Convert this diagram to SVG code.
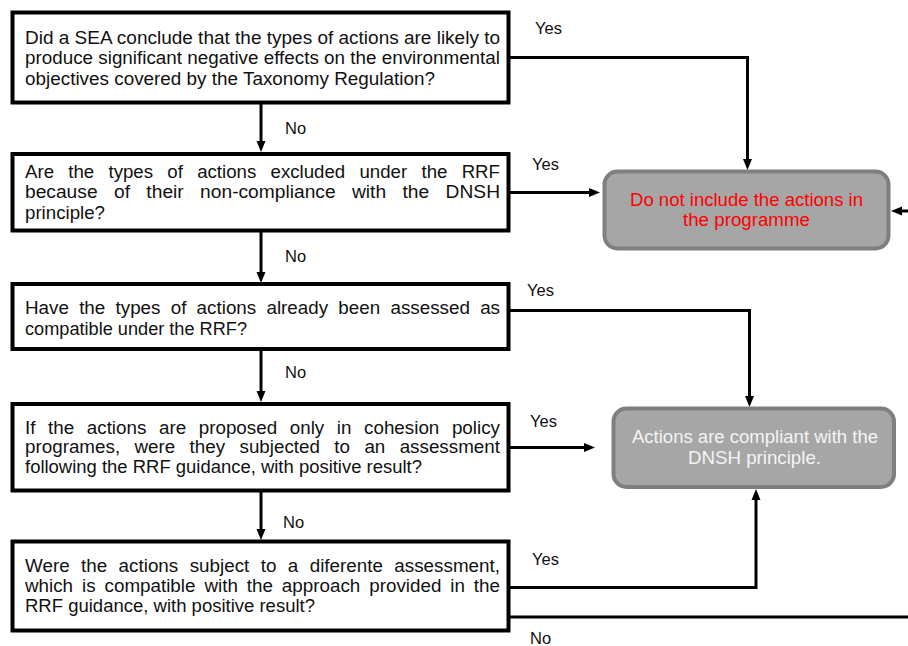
<svg xmlns="http://www.w3.org/2000/svg" width="908" height="646" viewBox="0 0 908 646">
  <style>
    .q { fill: #ffffff; stroke: #000000; stroke-width: 4; }
    .r { fill: #a6a6a6; stroke: #7f7f7f; stroke-width: 4; }
    .t { font-family: "Liberation Sans", Arial, sans-serif; font-size: 17.5px; fill: #111111; }
    .lbl { font-family: "Liberation Sans", Arial, sans-serif; font-size: 16.5px; fill: #111111; }
    .red { font-family: "Liberation Sans", Arial, sans-serif; font-size: 17.5px; fill: #ff0000; }
    .wht { font-family: "Liberation Sans", Arial, sans-serif; font-size: 17.5px; fill: #f4f4f4; }
    .c { fill: none; stroke: #000000; stroke-width: 3; }
  </style>
  <defs>
    <marker id="ah" markerUnits="userSpaceOnUse" markerWidth="12" markerHeight="10" refX="6" refY="5" orient="auto">
      <path d="M0,0.5 L11,5 L0,9.5 z" fill="#000000"/>
    </marker>
  </defs>
  <rect width="908" height="646" fill="#ffffff"/>

  <!-- connectors -->
  <g id="connectors">
    <path class="c" d="M261,104 V147" marker-end="url(#ah)"/>
    <path class="c" d="M261,232 V278" marker-end="url(#ah)"/>
    <path class="c" d="M261,351 V397" marker-end="url(#ah)"/>
    <path class="c" d="M261,492 V535" marker-end="url(#ah)"/>
    <path class="c" d="M510,57.5 H747.5 V165" marker-end="url(#ah)"/>
    <path class="c" d="M510,192.5 H595" marker-end="url(#ah)"/>
    <path class="c" d="M908,211 H896" marker-end="url(#ah)"/>
    <path class="c" d="M510,310.5 H749.5 V402" marker-end="url(#ah)"/>
    <path class="c" d="M510,447.5 H590" marker-end="url(#ah)"/>
    <path class="c" d="M510,587.5 H756 V494" marker-end="url(#ah)"/>
    <path class="c" d="M510,617 H908"/>
    <text class="lbl" x="535" y="33.5">Yes</text>
    <text class="lbl" x="285" y="133.5">No</text>
    <text class="lbl" x="532" y="170">Yes</text>
    <text class="lbl" x="285" y="262">No</text>
    <text class="lbl" x="527" y="296">Yes</text>
    <text class="lbl" x="285" y="378">No</text>
    <text class="lbl" x="530" y="427">Yes</text>
    <text class="lbl" x="283" y="528">No</text>
    <text class="lbl" x="532" y="565">Yes</text>
    <text class="lbl" x="530" y="643.5">No</text>
  </g>

  <!-- question 1 -->
  <g id="q1">
    <rect class="q" x="12.5" y="12.5" width="496" height="90"/>
    <text class="t" x="25" y="43.5" textLength="475" lengthAdjust="spacingAndGlyphs">Did a SEA conclude that the types of actions are likely to</text>
    <text class="t" x="25" y="64" textLength="475" lengthAdjust="spacingAndGlyphs">produce significant negative effects on the environmental</text>
    <text class="t" x="25" y="84.5" textLength="410" lengthAdjust="spacingAndGlyphs">objectives covered by the Taxonomy Regulation?</text>
  </g>

  <!-- question 2 (justified lines) -->
  <g id="q2">
    <rect class="q" x="12.5" y="154" width="496" height="76.5"/>
    <text class="t" x="25" y="177.5" word-spacing="8.5" textLength="475" lengthAdjust="spacingAndGlyphs">Are the types of actions excluded under the RRF</text>
    <text class="t" x="25" y="198" word-spacing="10.1" textLength="475" lengthAdjust="spacingAndGlyphs">because of their non-compliance with the DNSH</text>
    <text class="t" x="25" y="218.5" textLength="80" lengthAdjust="spacingAndGlyphs">principle?</text>
  </g>

  <!-- question 3 -->
  <g id="q3">
    <rect class="q" x="12.5" y="284" width="496" height="65"/>
    <text class="t" x="25" y="314" word-spacing="4.65" textLength="475" lengthAdjust="spacingAndGlyphs">Have the types of actions already been assessed as</text>
    <text class="t" x="25" y="334.5" textLength="222" lengthAdjust="spacingAndGlyphs">compatible under the RRF?</text>
  </g>

  <!-- question 4 -->
  <g id="q4">
    <rect class="q" x="12.5" y="404" width="496" height="86.5"/>
    <text class="t" x="25" y="433.5" word-spacing="6.85" textLength="475" lengthAdjust="spacingAndGlyphs">If the actions are proposed only in cohesion policy</text>
    <text class="t" x="25" y="453" word-spacing="8.5" textLength="475" lengthAdjust="spacingAndGlyphs">programes, were they subjected to an assessment</text>
    <text class="t" x="25" y="473" textLength="397" lengthAdjust="spacingAndGlyphs">following the RRF guidance, with positive result?</text>
  </g>

  <!-- question 5 -->
  <g id="q5">
    <rect class="q" x="12.5" y="541.5" width="496" height="89"/>
    <text class="t" x="25" y="572" word-spacing="5.74" textLength="475" lengthAdjust="spacingAndGlyphs">Were the actions subject to a diferente assessment,</text>
    <text class="t" x="25" y="592" word-spacing="3.45" textLength="475" lengthAdjust="spacingAndGlyphs">which is compatible with the approach provided in the</text>
    <text class="t" x="25" y="612" textLength="290" lengthAdjust="spacingAndGlyphs">RRF guidance, with positive result?</text>
  </g>

  <!-- outcome: exclude -->
  <g id="exclude">
    <rect class="r" x="604.5" y="171.5" width="284" height="77" rx="13"/>
    <text class="red" x="630" y="205.5" textLength="233" lengthAdjust="spacingAndGlyphs">Do not include the actions in</text>
    <text class="red" x="683" y="226" textLength="127" lengthAdjust="spacingAndGlyphs">the programme</text>
  </g>

  <!-- outcome: compliant -->
  <g id="compliant">
    <rect class="r" x="613.5" y="408.5" width="280.5" height="78.5" rx="13"/>
    <text class="wht" x="632" y="443" textLength="246" lengthAdjust="spacingAndGlyphs">Actions are compliant with the</text>
    <text class="wht" x="688" y="463.5" textLength="133" lengthAdjust="spacingAndGlyphs">DNSH principle.</text>
  </g>
</svg>
